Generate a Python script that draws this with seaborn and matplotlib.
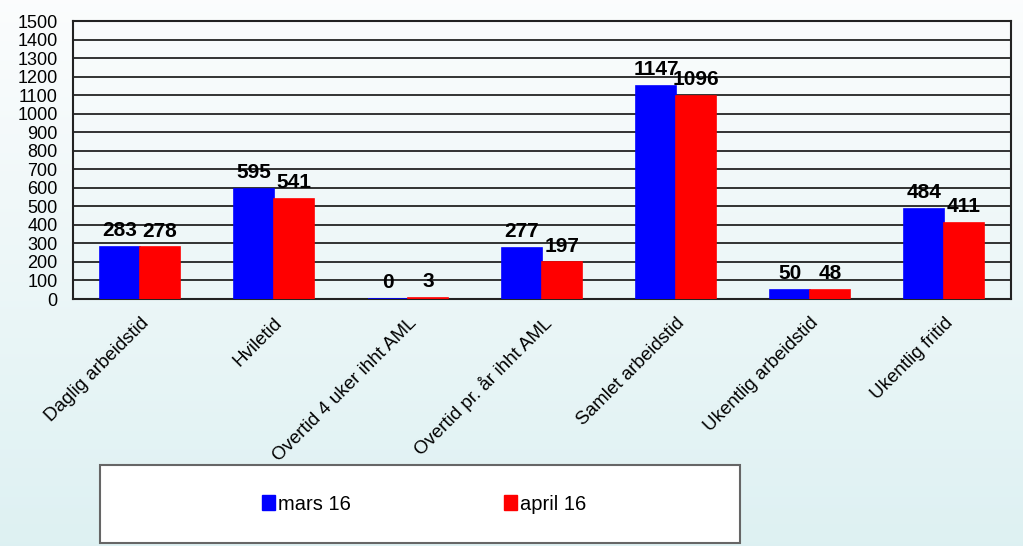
import numpy as np
import pandas as pd
import matplotlib
matplotlib.use("Agg")
import matplotlib.pyplot as plt
import seaborn as sns
from matplotlib.patches import Rectangle, Patch

categories = ["Daglig arbeidstid", "Hviletid", "Overtid 4 uker ihht AML",
              "Overtid pr. år ihht AML", "Samlet arbeidstid",
              "Ukentlig arbeidstid", "Ukentlig fritid"]
mars_16 = [283, 595, 0, 277, 1147, 50, 484]
april_16 = [278, 541, 3, 197, 1096, 48, 411]
series_names = ["mars 16", "april 16"]
y_ticks = list(range(0, 1501, 100))

df = pd.DataFrame({
    "category": categories * 2,
    "value": mars_16 + april_16,
    "series": [series_names[0]] * len(categories) + [series_names[1]] * len(categories),
})

sns.set_style("white")
plt.rcParams['font.family'] = ['Liberation Sans', 'DejaVu Sans']
plt.rcParams['text.color'] = 'black'
plt.rcParams['xtick.color'] = 'black'
plt.rcParams['ytick.color'] = 'black'
plt.rcParams['xtick.labelcolor'] = 'black'
plt.rcParams['ytick.labelcolor'] = 'black'

fig = plt.figure(figsize=(10.23, 5.46), dpi=100)

# gradient background
bg = fig.add_axes([0, 0, 1, 1], zorder=-10)
top = np.array([0.985, 0.990, 0.993])
bot = np.array([0.870, 0.945, 0.950])
t = np.linspace(0, 1, 256)[:, None]
grad = top[None, :] * (1 - t) + bot[None, :] * t
bg.imshow(grad[:, None, :], aspect="auto", extent=[0, 1, 0, 1], origin="upper")
bg.axis("off")

ax = fig.add_axes([73 / 1023, 1 - 299 / 546, (1011 - 73) / 1023, (299 - 21) / 546])
ax.set_facecolor("none")
palette = {"mars 16": "#0000FF", "april 16": "#FF0000"}
sns.barplot(data=df, x="category", y="value", hue="series", palette=palette,
            width=0.6, ax=ax, legend=False, saturation=1,
            edgecolor=None, linewidth=0, zorder=3)
for p in ax.patches:
    p.set_edgecolor(p.get_facecolor())
    p.set_linewidth(1.2)

ax.set_ylim(0, 1500)
ax.set_yticks(y_ticks)
ax.set_yticklabels([str(v) for v in y_ticks], fontsize=13)
ax.set_xlim(-0.5, len(categories) - 0.5)
ax.grid(axis="y", color="#111111", linewidth=1.2, zorder=0)
ax.set_axisbelow(True)
ax.set_xlabel("")
ax.set_ylabel("")

ax.set_xticks(range(len(categories)))
ax.set_xticklabels(categories, rotation=45, ha="right", rotation_mode="anchor", fontsize=13.5)
ax.tick_params(axis="x", which="major", length=0, pad=11)
ax.set_xticks(np.arange(-0.5, len(categories), 1.0), minor=True)
ax.tick_params(axis="x", which="minor", length=5, width=1.2, color="#222222", direction="out")
ax.tick_params(axis="y", length=5, width=1.2, color="#222222", direction="out", pad=6)
for s in ax.spines.values():
    s.set_visible(True)
    s.set_color("#222222")
    s.set_linewidth(1.5)

# value labels
for container in ax.containers:
    ax.bar_label(container, fmt="%d", fontsize=15, fontweight="bold", padding=5, color="black")

# legend box
rect = Rectangle((100 / 1023, 1 - 543 / 546), (740 - 100) / 1023, (543 - 465) / 546,
                 transform=fig.transFigure, facecolor="white", edgecolor="#666666",
                 linewidth=1.5, zorder=5)
fig.patches.append(rect)
handles = [Patch(facecolor=palette[n], edgecolor=palette[n]) for n in series_names]
leg = fig.legend(handles, series_names, loc="center", bbox_to_anchor=(424 / 1023, 1 - 504 / 546),
                 ncol=2, frameon=False, fontsize=14.5, columnspacing=7.6,
                 handlelength=0.65, handleheight=0.75, handletextpad=0.15)
leg.set_zorder(6)

fig.savefig("out.png", dpi=100)
